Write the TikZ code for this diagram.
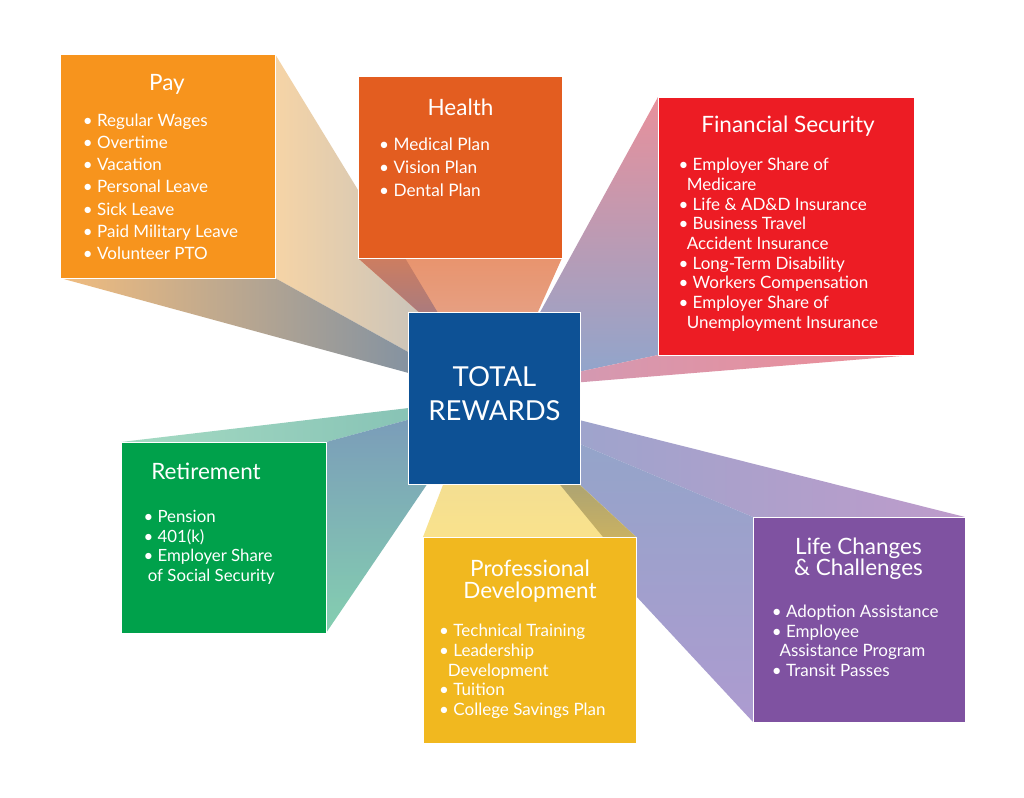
\documentclass[tikz,border=0pt]{standalone}
\usepackage{fontspec}
\setmainfont{Lato}
\usetikzlibrary{backgrounds}
\definecolor{payc}{HTML}{F7941D}
\definecolor{heac}{HTML}{E35D20}
\definecolor{finc}{HTML}{ED1C24}
\definecolor{retc}{HTML}{00A14B}
\definecolor{pdc}{HTML}{F1B81F}
\definecolor{lcc}{HTML}{7F52A1}
\definecolor{totc}{HTML}{0D5195}
\begin{document}
\begin{tikzpicture}[x=1pt,y=-1pt,
  box/.style={draw=white, line width=0.9pt, anchor=north west, inner sep=0pt, outer sep=0pt},
  ttl/.style={font=\fontsize{22.5}{21.7}\selectfont, text=white, inner sep=0pt, align=center, anchor=base},
  lst/.style={font=\fontsize{17}{19.8}\selectfont, text=white, inner sep=0pt, align=left, anchor=base west},
  face/.style={draw=none}
]
\useasboundingbox (0,0) rectangle (1024,797);

% boxes as nodes
\path
  (60,54)   node[box, fill=payc, minimum width=215pt, minimum height=224pt] (pay) {}
  (358,76)  node[box, fill=heac, minimum width=204pt, minimum height=182pt] (hea) {}
  (658,97)  node[box, fill=finc, minimum width=256pt, minimum height=258pt] (fin) {}
  (121,442) node[box, fill=retc, minimum width=205pt, minimum height=191pt] (ret) {}
  (423,537) node[box, fill=pdc,  minimum width=213pt, minimum height=206pt] (pd) {}
  (753,517) node[box, fill=lcc,  minimum width=212pt, minimum height=205pt] (lc) {};

% centre box
\node[box, fill=totc, minimum width=172pt, minimum height=172pt] (tot) at (408,312) {};

% vanishing points (hidden behind the centre box)
\coordinate (apPay) at (482,393);
\coordinate (apHea) at (504,388);
\coordinate (apFin) at (498,389);
\coordinate (apRet) at (485,399);
\coordinate (apPD)  at (479,391);
\coordinate (apLC)  at (440,385);
\coordinate (heW1) at (405,258);
\coordinate (heW2) at (441,318);
\coordinate (heW3) at (425.6,318);
\coordinate (pdW1) at (603,537);
\coordinate (pdW2) at (569,475);
\coordinate (pdW3) at (552,475);

\begin{scope}[on background layer]
  \fill[white] (0,0) rectangle (1024,797);
  % Pay
  \shade[face, left color={rgb,255:red,246;green,212;blue,166}, right color={rgb,255:red,183;green,189;blue,195}]
    (pay.north east) -- (apPay) -- (pay.south east) -- cycle;
  \shade[face, left color={rgb,255:red,241;green,188;blue,126}, middle color={rgb,255:red,224;green,184;blue,144}, right color={rgb,255:red,110;green,138;blue,168}]
    (pay.south west) -- (pay.south east) -- (apPay) -- cycle;
  % Retirement
  \shade[face, left color={rgb,255:red,165;green,219;blue,195}, right color={rgb,255:red,128;green,189;blue,178}]
    (ret.north west) -- (ret.north east) -- (apRet) -- cycle;
  \shade[face, top color={rgb,255:red,122;green,152;blue,186}, bottom color={rgb,255:red,132;green,207;blue,176}]
    (ret.north east) -- (ret.south east) -- (apRet) -- cycle;
  % Life changes
  \shade[face, left color={rgb,255:red,147;green,167;blue,204}, right color={rgb,255:red,190;green,155;blue,203}]
    (lc.north west) -- (lc.north east) -- (apLC) -- cycle;
  \shade[face, top color={rgb,255:red,143;green,166;blue,200}, bottom color={rgb,255:red,173;green,155;blue,208}]
    (lc.north west) -- (lc.south west) -- (apLC) -- cycle;
  % Financial security
  \shade[face, top color={rgb,255:red,232;green,144;blue,155}, bottom color={rgb,255:red,140;green,166;blue,206}]
    (fin.north west) -- (fin.south west) -- (apFin) -- cycle;
  \shade[face, left color={rgb,255:red,206;green,156;blue,184}, right color={rgb,255:red,238;green,140;blue,149}]
    (fin.south west) -- (fin.south east) -- (apFin) -- cycle;
  % Health
  \shade[face, top color={rgb,255:red,232;green,148;blue,110}, bottom color={rgb,255:red,228;green,174;blue,156}]
    (hea.south west) -- (hea.south east) -- (apHea) -- cycle;
  \shade[face, top color={rgb,255:red,205;green,125;blue,96}, bottom color={rgb,255:red,167;green,123;blue,128}]
    (hea.south west) -- (heW1) -- (heW2) -- (heW3) -- cycle;
  % Professional development
  \shade[face, top color={rgb,255:red,234;green,216;blue,156}, bottom color={rgb,255:red,249;green,226;blue,140}]
    (pd.north west) -- (pd.north east) -- (apPD) -- cycle;
  \shade[face, top color={rgb,255:red,169;green,162;blue,117}, bottom color={rgb,255:red,201;green,177;blue,98}]
    (pdW1) -- (pd.north east) -- (pdW2) -- (pdW3) -- cycle;
\end{scope}

% texts (multi-line nodes are anchored at the baseline of their last line)
\node[ttl] (payT) at (167,90.7) {Pay};
\node[lst, font=\fontsize{17}{22.3}\selectfont] (payL) at (82.7,259.8)
  {• Regular Wages\\• Overtime\\• Vacation\\• Personal Leave\\• Sick Leave\\• Paid Military Leave\\• Volunteer PTO};

\node[ttl] (heaT) at (460.5,115) {Health};
\node[lst, font=\fontsize{17.2}{22.7}\selectfont] (heaL) at (379,196.1)
  {• Medical Plan\\• Vision Plan\\• Dental Plan};

\node[ttl] (finT) at (788,132.3) {Financial Security};
\node[lst, font=\fontsize{17}{19.7}\selectfont] (finL) at (678.3,328.3)
  {• Employer Share of\\\hspace*{8.4pt}Medicare\\• Life \& AD\&D Insurance\\• Business Travel\\\hspace*{8.4pt}Accident Insurance\\• Long-Term Disability\\• Workers Compensation\\• Employer Share of\\\hspace*{8.4pt}Unemployment Insurance};

\node[ttl] (retT) at (206,479) {Retirement};
\node[lst, font=\fontsize{16.8}{19.8}\selectfont] (retL) at (143.3,581.7)
  {• Pension\\• 401(k)\\• Employer Share\\\hspace*{4.4pt}of Social Security};

\node[ttl] (pdT) at (530,598.3) {Professional\\Development};
\node[lst, font=\fontsize{17}{19.75}\selectfont] (pdL) at (439,715.7)
  {• Technical Training\\• Leadership\\\hspace*{8.7pt}Development\\• Tuition\\• College Savings Plan};

\node[ttl] (lcT) at (858.5,575.7) {Life Changes\\\& Challenges};
\node[lst, font=\fontsize{17}{19.8}\selectfont] (lcL) at (771.7,676.7)
  {• Adoption Assistance\\• Employee\\\hspace*{7.6pt}Assistance Program\\• Transit Passes};

\node[ttl, font=\fontsize{27.5}{33.3}\selectfont] (totT) at (494.5,420) {TOTAL\\REWARDS};
\end{tikzpicture}
\end{document}
